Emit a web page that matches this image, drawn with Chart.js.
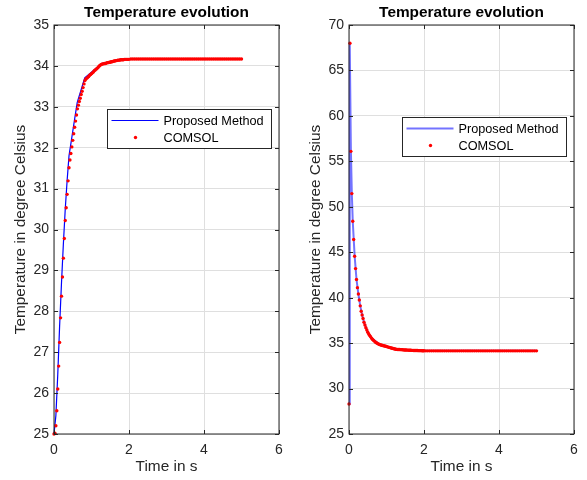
<!DOCTYPE html>
<html lang="en">
<head>
<meta charset="UTF-8">
<title>Temperature evolution</title>
<script src="https://cdn.jsdelivr.net/npm/chart.js"></script>
<style>
  html, body { margin: 0; padding: 0; background: #fff; overflow: hidden; }
  canvas { position: absolute; top: 0; }
  #leftChart { left: 0; }
  #rightChart { left: 295px; }
</style>
</head>
<body>
<canvas id="leftChart" width="293" height="480"></canvas>
<canvas id="rightChart" width="292" height="480"></canvas>
<script>
// COMSOL output times (s), shared by both plots
const comsolTime = [
  0, 0.025, 0.05, 0.075, 0.1, 0.125, 0.15, 0.175, 0.2, 0.225,
  0.25, 0.275, 0.3, 0.325, 0.35, 0.375, 0.4, 0.425, 0.45, 0.475,
  0.5, 0.525, 0.55, 0.575, 0.6, 0.625, 0.65, 0.675, 0.7, 0.725,
  0.75, 0.775, 0.8, 0.825, 0.85, 0.875, 0.9, 0.925, 0.95, 0.975,
  1, 1.025, 1.05, 1.075, 1.1, 1.125, 1.15, 1.175, 1.2, 1.225,
  1.25, 1.275, 1.3, 1.325, 1.35, 1.375, 1.4, 1.425, 1.45, 1.475,
  1.5, 1.525, 1.55, 1.575, 1.6, 1.625, 1.65, 1.675, 1.7, 1.725,
  1.75, 1.775, 1.8, 1.825, 1.85, 1.875, 1.9, 1.925, 1.95, 1.975,
  2,
  2.05, 2.1, 2.15, 2.2, 2.25, 2.3, 2.35, 2.4, 2.45, 2.5,
  2.55, 2.6, 2.65, 2.7, 2.75, 2.8, 2.85, 2.9, 2.95, 3,
  3.05, 3.1, 3.15, 3.2, 3.25, 3.3, 3.35, 3.4, 3.45, 3.5,
  3.55, 3.6, 3.65, 3.7, 3.75, 3.8, 3.85, 3.9, 3.95, 4,
  4.05, 4.1, 4.15, 4.2, 4.25, 4.3, 4.35, 4.4, 4.45, 4.5,
  4.55, 4.6, 4.65, 4.7, 4.75, 4.8, 4.85, 4.9, 4.95, 5
];

// left plot: heating from 25 degC
const leftComsol = [
  25.00, 25.02, 25.20, 25.57, 26.10, 26.66, 27.24, 27.84, 28.37, 28.84,
  29.30, 29.78, 30.22, 30.53, 30.86, 31.19, 31.51, 31.70, 31.86, 32.02,
  32.18, 32.34, 32.50, 32.65, 32.80, 32.95, 33.04, 33.13, 33.21, 33.30,
  33.38, 33.47, 33.56, 33.64, 33.68, 33.70, 33.72, 33.74, 33.77, 33.79,
  33.81, 33.83, 33.85, 33.88, 33.90, 33.92, 33.94, 33.96, 33.99, 34.01,
  34.03, 34.04, 34.05, 34.05, 34.06, 34.06, 34.07, 34.08, 34.08, 34.09,
  34.09, 34.10, 34.10, 34.11, 34.12, 34.12, 34.13, 34.13, 34.14, 34.14,
  34.14, 34.15, 34.15, 34.15, 34.15, 34.16, 34.16, 34.16, 34.16, 34.16,
  34.16,
  34.17, 34.17, 34.17, 34.17, 34.17, 34.17, 34.17, 34.17, 34.17, 34.17,
  34.17, 34.17, 34.17, 34.17, 34.17, 34.17, 34.17, 34.17, 34.17, 34.17,
  34.17, 34.17, 34.17, 34.17, 34.17, 34.17, 34.17, 34.17, 34.17, 34.17,
  34.17, 34.17, 34.17, 34.17, 34.17, 34.17, 34.17, 34.17, 34.17, 34.17,
  34.17, 34.17, 34.17, 34.17, 34.17, 34.17, 34.17, 34.17, 34.17, 34.17,
  34.17, 34.17, 34.17, 34.17, 34.17, 34.17, 34.17, 34.17, 34.17, 34.17
];
const leftProposedTime = [0, 0.05, 0.1, 0.15, 0.2, 0.25, 0.3, 0.35, 0.4, 0.45, 0.5, 0.55, 0.62, 0.82, 1.27, 1.75, 2.5, 3.5, 5];
const leftProposed = [25.0, 25.45, 26.45, 27.65, 28.7, 29.65, 30.5, 31.2, 31.8, 32.1, 32.4, 32.7, 33.11, 33.71, 34.06, 34.16, 34.17, 34.17, 34.17];

// right plot: cooling after the initial spike
const rightComsol = [
  28.3, 68.0, 56.1, 51.45, 48.4, 46.4, 44.55, 43.2, 42.0, 41.1,
  40.4, 39.75, 39.1, 38.5, 38.1, 37.7, 37.3, 37.0, 36.7, 36.45,
  36.2, 36.0, 35.85, 35.7, 35.55, 35.42, 35.32, 35.22, 35.13, 35.05,
  34.98, 34.92, 34.87, 34.83, 34.80, 34.77, 34.74, 34.71, 34.68, 34.65,
  34.62, 34.59, 34.56, 34.53, 34.50, 34.47, 34.44, 34.41, 34.38, 34.35,
  34.32, 34.31, 34.30, 34.29, 34.29, 34.28, 34.28, 34.27, 34.26, 34.25,
  34.25, 34.24, 34.23, 34.23, 34.22, 34.21, 34.21, 34.20, 34.20, 34.19,
  34.19, 34.18, 34.18, 34.18, 34.17, 34.17, 34.17, 34.17, 34.16, 34.16,
  34.16,
  34.15, 34.15, 34.15, 34.15, 34.15, 34.15, 34.15, 34.15, 34.15, 34.15,
  34.15, 34.15, 34.15, 34.15, 34.15, 34.15, 34.15, 34.15, 34.15, 34.15,
  34.15, 34.15, 34.15, 34.15, 34.15, 34.15, 34.15, 34.15, 34.15, 34.15,
  34.15, 34.15, 34.15, 34.15, 34.15, 34.15, 34.15, 34.15, 34.15, 34.15,
  34.15, 34.15, 34.15, 34.15, 34.15, 34.15, 34.15, 34.15, 34.15, 34.15,
  34.15, 34.15, 34.15, 34.15, 34.15, 34.15, 34.15, 34.15, 34.15, 34.15
];
const rightProposedTime = [0, 0.02, 0.05, 0.075, 0.1, 0.15, 0.2, 0.25, 0.3, 0.35, 0.4, 0.5, 0.6, 0.82, 1.27, 1.75, 2.5, 5];
const rightProposed = [28.3, 68.0, 56.3, 51.5, 48.4, 44.6, 42.0, 40.4, 39.1, 38.1, 37.3, 36.2, 35.55, 34.83, 34.31, 34.19, 34.15, 34.15];

const seriesNames = ['Proposed Method', 'COMSOL'];
const chartTitle = 'Temperature evolution';
const xLabel = 'Time in s';
const yLabel = 'Temperature in degree Celsius';
const xRange = [0, 6, 2];
const leftYRange = [25, 35, 1];
const rightYRange = [25, 70, 5];

const FONT = "'Liberation Sans', Arial, Helvetica, sans-serif";
const INK = '#262626';

function pts(xs, ys) {
  return xs.map((x, i) => ({ x: x, y: ys[i] }));
}

// MATLAB-like box, inward ticks, title and inset legend
const matlabAxes = {
  id: 'matlabAxes',
  afterDatasetsDraw(chart) {
    const { ctx, chartArea: a, scales } = chart;
    ctx.save();
    ctx.strokeStyle = INK;
    ctx.lineWidth = 1;
    ctx.beginPath();
    scales.y.ticks.forEach(t => {
      const py = Math.round(scales.y.getPixelForValue(t.value)) + 0.5;
      ctx.moveTo(a.left, py); ctx.lineTo(a.left + 4, py);
      ctx.moveTo(a.right, py); ctx.lineTo(a.right - 4, py);
    });
    scales.x.ticks.forEach(t => {
      const px = Math.round(scales.x.getPixelForValue(t.value)) + 0.5;
      ctx.moveTo(px, a.bottom); ctx.lineTo(px, a.bottom - 4);
      ctx.moveTo(px, a.top); ctx.lineTo(px, a.top + 4);
    });
    ctx.stroke();
    ctx.strokeRect(a.left, a.top, a.right - a.left, a.bottom - a.top);
    ctx.restore();
  },
  afterDraw(chart, args, opts) {
    const { ctx, chartArea: a } = chart;
    ctx.save();
    // title
    ctx.fillStyle = '#000';
    ctx.font = 'bold 15.4px ' + FONT;
    ctx.textAlign = 'center';
    ctx.textBaseline = 'alphabetic';
    ctx.fillText(opts.title, (a.left + a.right) / 2, 17);

    // legend
    const bx = a.left + opts.legendX, by = a.top + opts.legendY;
    ctx.fillStyle = '#fff';
    ctx.fillRect(bx, by, 164, 39);
    ctx.strokeStyle = INK;
    ctx.lineWidth = 1;
    ctx.strokeRect(bx + 0.5, by + 0.5, 164, 39);
    const ds = chart.data.datasets;
    const line = ds.find(d => d.showLine !== false);
    const dots = ds.find(d => d.showLine === false);
    ctx.strokeStyle = line.borderColor;
    ctx.lineWidth = line.borderWidth;
    ctx.beginPath();
    ctx.moveTo(bx + 4.5, by + 11.5);
    ctx.lineTo(bx + 51.5, by + 11.5);
    ctx.stroke();
    ctx.fillStyle = dots.pointBackgroundColor;
    ctx.beginPath();
    ctx.arc(bx + 28.5, by + 28.5, dots.pointRadius, 0, Math.PI * 2);
    ctx.fill();
    ctx.fillStyle = '#000';
    ctx.font = '12.7px ' + FONT;
    ctx.textAlign = 'left';
    ctx.textBaseline = 'middle';
    ctx.fillText(line.label, bx + 56.5, by + 12);
    ctx.fillText(dots.label, bx + 56.5, by + 29.5);
    ctx.restore();
  }
};

function makeChart(id, proposedT, proposedV, comsolV, yRange, lineColor, lineWidth, padRight, legendY) {
  return new Chart(document.getElementById(id), {
    type: 'line',
    data: {
      datasets: [
        {
          label: seriesNames[0],
          data: pts(proposedT, proposedV),
          borderColor: lineColor,
          borderWidth: lineWidth,
          pointRadius: 0,
          tension: 0,
          clip: false,
          order: 1
        },
        {
          label: seriesNames[1],
          data: pts(comsolTime, comsolV),
          showLine: false,
          pointRadius: 1.7,
          pointBorderWidth: 0,
          pointBackgroundColor: '#ff0000',
          pointBorderColor: '#ff0000',
          clip: false,
          order: 0
        }
      ]
    },
    options: {
      responsive: false,
      animation: false,
      layout: { padding: { left: 0, right: padRight, top: 25, bottom: 0 } },
      plugins: {
        legend: { display: false },
        tooltip: { enabled: false },
        title: { display: false },
        matlabAxes: { title: chartTitle, legendX: 53, legendY: legendY }
      },
      scales: {
        x: {
          type: 'linear',
          min: xRange[0], max: xRange[1],
          ticks: { stepSize: xRange[2], color: INK, font: { family: FONT, size: 14 }, padding: 8 },
          grid: { color: '#dfdfdf', drawTicks: false },
          border: { display: false },
          title: { display: true, text: xLabel, color: INK, font: { family: FONT, size: 15.4 }, padding: { top: 0, bottom: 4 } },
          afterFit(scale) { scale.height = 46; }
        },
        y: {
          type: 'linear',
          min: yRange[0], max: yRange[1],
          ticks: { stepSize: yRange[2], color: INK, font: { family: FONT, size: 14 }, padding: 5 },
          grid: { color: '#dfdfdf', drawTicks: false },
          border: { display: false },
          title: { display: true, text: yLabel, color: INK, font: { family: FONT, size: 15.4 }, padding: { top: 12, bottom: 0 } },
          afterFit(scale) { scale.width = 54; }
        }
      }
    },
    plugins: [matlabAxes]
  });
}

makeChart('leftChart', leftProposedTime, leftProposed, leftComsol, leftYRange, '#0000ff', 1.2, 14, 84);
makeChart('rightChart', rightProposedTime, rightProposed, rightComsol, rightYRange, 'rgba(0,0,255,0.55)', 2, 13, 92);
</script>
</body>
</html>
